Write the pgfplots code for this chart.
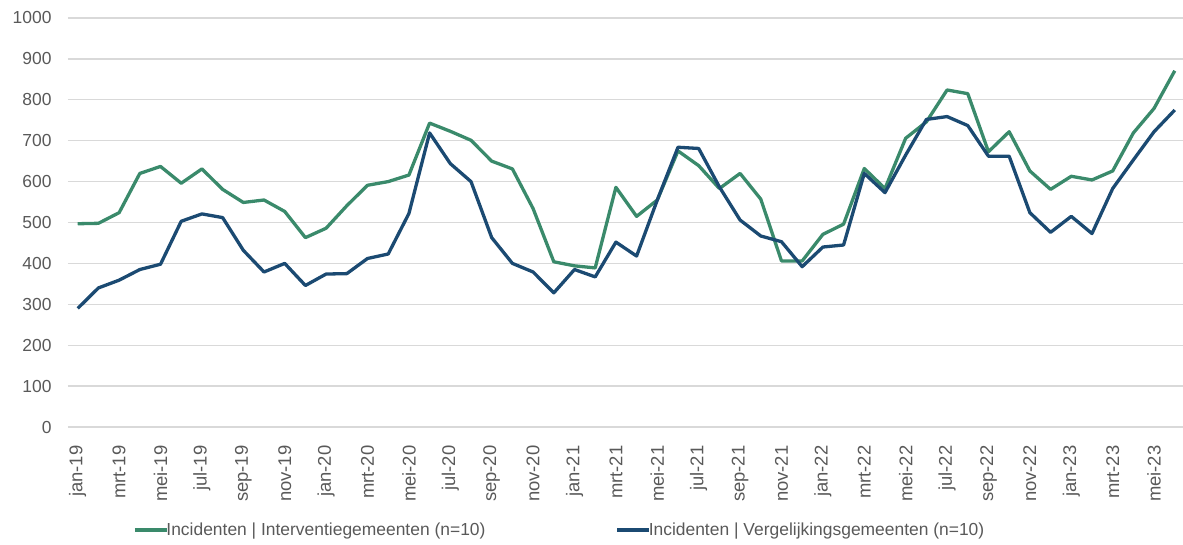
\documentclass[border=0pt]{standalone}
\usepackage{pgfplots}
\pgfplotsset{compat=1.18}
\usepackage{pgfplotstable}
\usepackage{fontspec}
\setmainfont{Liberation Sans}
\definecolor{cgreen}{HTML}{3A8A6B}
\definecolor{cblue}{HTML}{1B4A72}
\definecolor{ctext}{HTML}{595959}
\definecolor{cgrid}{HTML}{D9D9D9}
\pgfplotstableread{
x inter verg
0 497 290
1 498 340
2 524 359
3 620 385
4 637 398
5 596 503
6 631 521
7 581 512
8 549 432
9 555 379
10 527 400
11 463 346
12 486 374
13 541 375
14 591 412
15 600 423
16 616 522
17 743 719
18 723 644
19 701 600
20 650 463
21 631 400
22 534 379
23 404 328
24 394 385
25 389 367
26 586 452
27 515 418
28 555 555
29 675 684
30 639 681
31 583 587
32 620 506
33 557 467
34 406 453
35 406 392
36 471 440
37 496 445
38 632 620
39 583 573
40 706 665
41 746 752
42 824 759
43 815 737
44 673 662
45 722 662
46 626 524
47 581 476
48 613 515
49 604 473
50 626 583
51 719 653
52 779 722
53 871 775
}\data
\begin{document}
\begin{tikzpicture}
\useasboundingbox (-68bp,-118bp) rectangle (1115bp,427bp);
\begin{axis}[
  at={(0,0)}, anchor=south west,
  scale only axis,
  width=1115bp, height=409bp,
  xmin=-0.47, xmax=53.4,
  ymin=0, ymax=1000,
  ytick={0,100,...,1000},
  xtick={0,2,...,52},
  xticklabels={jan-19,mrt-19,mei-19,jul-19,sep-19,nov-19,jan-20,mrt-20,mei-20,jul-20,sep-20,nov-20,jan-21,mrt-21,mei-21,jul-21,sep-21,nov-21,jan-22,mrt-22,mei-22,jul-22,sep-22,nov-22,jan-23,mrt-23,mei-23},
  ymajorgrids,
  grid style={draw=cgrid, line width=1.3bp},
  axis line style={draw=none},
  major tick style={draw=none},
  /pgf/number format/assume math mode=true,
  /pgf/number format/1000 sep={},
  yticklabel style={font=\fontsize{17.5}{20}\selectfont, text=ctext, anchor=east, xshift=-13bp},
  xticklabel style={font=\fontsize{18.5}{21}\selectfont, text=ctext, rotate=90, anchor=east, xshift=-15bp},
  legend style={draw=none, fill=none, at={(0.441,-0.252)}, anchor=center,
    font=\fontsize{17.5}{20}\selectfont, text=ctext,
    legend columns=2, /tikz/every even column/.append style={column sep=128bp},
    inner sep=0pt, row sep=0pt},
  legend cell align=left,
  legend image code/.code={\draw[#1] (0bp,0bp) -- (32bp,0bp);},
  every axis plot/.append style={line width=3.3bp, line join=round, mark=none},
]
\addplot[cgreen] table[x=x, y=inter] {\data};
\addlegendentry{\hspace{-4bp}Incidenten | Interventiegemeenten (n=10)}
\addplot[cblue] table[x=x, y=verg] {\data};
\addlegendentry{\hspace{-4bp}Incidenten | Vergelijkingsgemeenten (n=10)}
\end{axis}
\end{tikzpicture}
\end{document}
